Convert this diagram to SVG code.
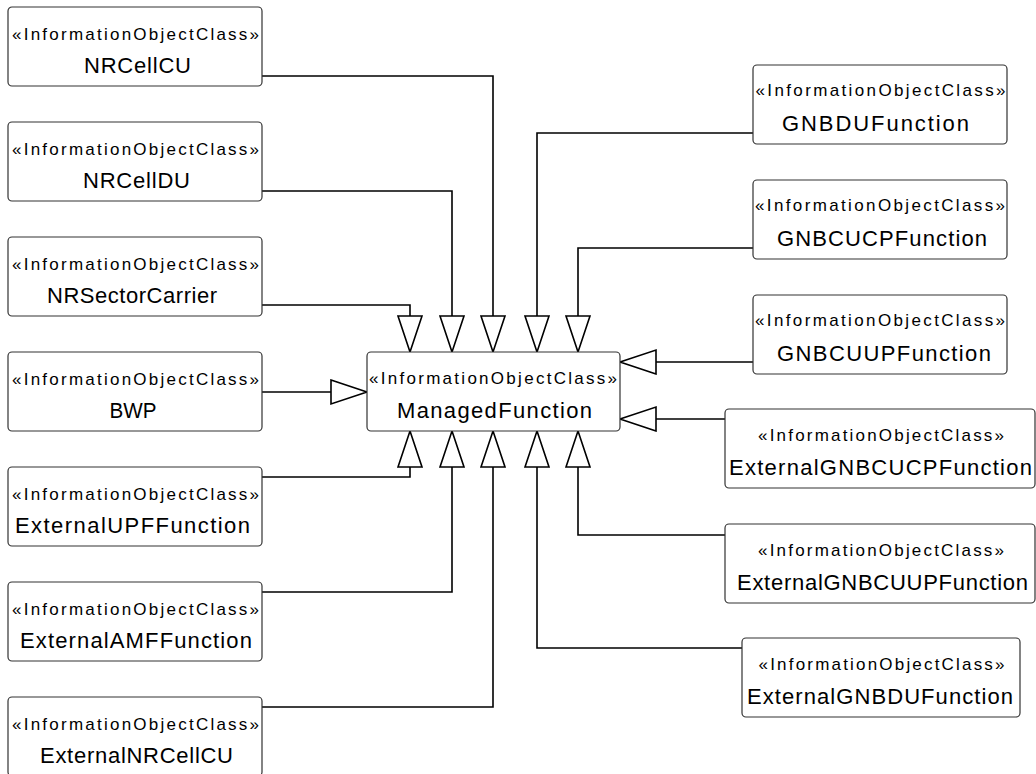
<svg xmlns="http://www.w3.org/2000/svg" width="1036" height="774" viewBox="0 0 1036 774">
<style>
.box{fill:#fff;stroke:#333;stroke-width:1.2}
.st{font-family:"Liberation Sans",Arial,sans-serif;font-size:17px;fill:#000;text-anchor:middle}
.nm{font-family:"Liberation Sans",Arial,sans-serif;font-size:22px;fill:#000;text-anchor:middle}
.conn{fill:none;stroke:#000;stroke-width:1.6;marker-end:url(#gen)}
</style>
<defs>
<marker id="gen" markerUnits="userSpaceOnUse" markerWidth="40" markerHeight="28" refX="37" refY="13" orient="auto" overflow="visible">
<path d="M1,1 L37,13 L1,25 Z" fill="#fff" stroke="#000" stroke-width="1.6"/>
</marker>
</defs>
<rect width="1036" height="774" fill="#fff"/>
<g id="connectors">
<path class="conn" d="M262,76 H493 V352"/>
<path class="conn" d="M262,191 H452 V352"/>
<path class="conn" d="M262,305 H410 V352"/>
<path class="conn" d="M262,392 H367"/>
<path class="conn" d="M262,477 H410 V431"/>
<path class="conn" d="M262,592 H452 V431"/>
<path class="conn" d="M262,707 H493 V431"/>
<path class="conn" d="M753,133 H537 V352"/>
<path class="conn" d="M753,248 H578 V352"/>
<path class="conn" d="M753,362 H620"/>
<path class="conn" d="M725,419 H620"/>
<path class="conn" d="M725,535 H578 V431"/>
<path class="conn" d="M742,648 H537 V431"/>
</g>
<g id="NRCellCU"><rect class="box" x="8" y="7" width="254" height="79" rx="4"/><text class="st" x="135.5" y="40" textLength="247" lengthAdjust="spacing">«InformationObjectClass»</text><text class="nm" x="137.5" y="73" textLength="107" lengthAdjust="spacing">NRCellCU</text></g>
<g id="NRCellDU"><rect class="box" x="8" y="122" width="254" height="79" rx="4"/><text class="st" x="135.5" y="155" textLength="247" lengthAdjust="spacing">«InformationObjectClass»</text><text class="nm" x="136.5" y="188" textLength="107" lengthAdjust="spacing">NRCellDU</text></g>
<g id="NRSectorCarrier"><rect class="box" x="8" y="237" width="254" height="79" rx="4"/><text class="st" x="135.5" y="270" textLength="247" lengthAdjust="spacing">«InformationObjectClass»</text><text class="nm" x="132" y="303" textLength="170" lengthAdjust="spacing">NRSectorCarrier</text></g>
<g id="BWP"><rect class="box" x="8" y="352" width="254" height="79" rx="4"/><text class="st" x="135.5" y="385" textLength="247" lengthAdjust="spacing">«InformationObjectClass»</text><text class="nm" x="133" y="418" textLength="47" lengthAdjust="spacingAndGlyphs">BWP</text></g>
<g id="ExternalUPFFunction"><rect class="box" x="8" y="467" width="254" height="79" rx="4"/><text class="st" x="135.5" y="500" textLength="247" lengthAdjust="spacing">«InformationObjectClass»</text><text class="nm" x="132.5" y="533" textLength="235" lengthAdjust="spacing">ExternalUPFFunction</text></g>
<g id="ExternalAMFFunction"><rect class="box" x="8" y="582" width="254" height="79" rx="4"/><text class="st" x="135.5" y="615" textLength="247" lengthAdjust="spacing">«InformationObjectClass»</text><text class="nm" x="136" y="648" textLength="232" lengthAdjust="spacing">ExternalAMFFunction</text></g>
<g id="ExternalNRCellCU"><rect class="box" x="8" y="697" width="254" height="79" rx="4"/><text class="st" x="135.5" y="730" textLength="247" lengthAdjust="spacing">«InformationObjectClass»</text><text class="nm" x="136.5" y="763" textLength="193" lengthAdjust="spacing">ExternalNRCellCU</text></g>
<g id="ManagedFunction"><rect class="box" x="367" y="352" width="253" height="79" rx="4"/><text class="st" x="493" y="384" textLength="248" lengthAdjust="spacing">«InformationObjectClass»</text><text class="nm" x="494.5" y="418" textLength="195" lengthAdjust="spacing">ManagedFunction</text></g>
<g id="GNBDUFunction"><rect class="box" x="753" y="65" width="254" height="79" rx="4"/><text class="st" x="880.5" y="96" textLength="250" lengthAdjust="spacing">«InformationObjectClass»</text><text class="nm" x="875.5" y="131" textLength="187" lengthAdjust="spacing">GNBDUFunction</text></g>
<g id="GNBCUCPFunction"><rect class="box" x="753" y="180" width="254" height="79" rx="4"/><text class="st" x="880" y="211" textLength="250" lengthAdjust="spacing">«InformationObjectClass»</text><text class="nm" x="882" y="246" textLength="210" lengthAdjust="spacing">GNBCUCPFunction</text></g>
<g id="GNBCUUPFunction"><rect class="box" x="753" y="295" width="254" height="79" rx="4"/><text class="st" x="880" y="326" textLength="250" lengthAdjust="spacing">«InformationObjectClass»</text><text class="nm" x="884" y="361" textLength="214" lengthAdjust="spacing">GNBCUUPFunction</text></g>
<g id="ExternalGNBCUCPFunction"><rect class="box" x="725" y="409" width="310" height="79" rx="4"/><text class="st" x="881" y="441" textLength="246" lengthAdjust="spacing">«InformationObjectClass»</text><text class="nm" x="880.5" y="475" textLength="303" lengthAdjust="spacing">ExternalGNBCUCPFunction</text></g>
<g id="ExternalGNBCUUPFunction"><rect class="box" x="725" y="524" width="310" height="79" rx="4"/><text class="st" x="881" y="556" textLength="246" lengthAdjust="spacing">«InformationObjectClass»</text><text class="nm" x="882.5" y="590" textLength="291" lengthAdjust="spacing">ExternalGNBCUUPFunction</text></g>
<g id="ExternalGNBDUFunction"><rect class="box" x="742" y="638" width="278" height="79" rx="4"/><text class="st" x="881.5" y="670" textLength="246" lengthAdjust="spacing">«InformationObjectClass»</text><text class="nm" x="880" y="704" textLength="266" lengthAdjust="spacing">ExternalGNBDUFunction</text></g>
</svg>
